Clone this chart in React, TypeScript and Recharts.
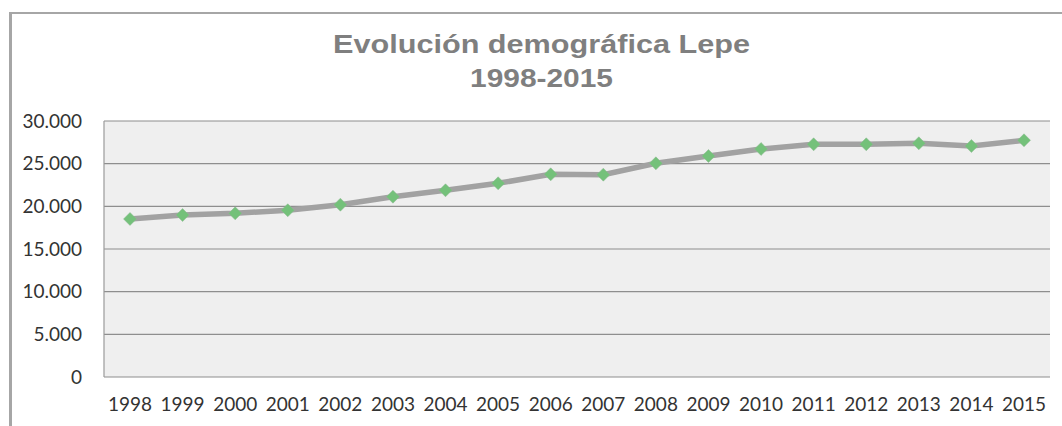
import React from "react";
import { LineChart, Line, XAxis, YAxis, CartesianGrid } from "recharts";

const years = ["1998","1999","2000","2001","2002","2003","2004","2005","2006","2007","2008","2009","2010","2011","2012","2013","2014","2015"];
const population = [18520,18980,19180,19540,20190,21130,21880,22700,23750,23710,25040,25900,26720,27270,27270,27390,27070,27740];
const yTicks = [0,5000,10000,15000,20000,25000,30000];
const titleLine1 = "Evolución demográfica Lepe";
const titleLine2 = "1998-2015";

const data = years.map((y, i) => ({ year: y, value: population[i] }));

const fmt = (n: number) => String(n).replace(/\B(?=(\d{3})+(?!\d))/g, ".");

const Diamond = (props: any) => {
  const { cx, cy } = props;
  if (cx == null || cy == null) return null;
  const r = 6.5;
  return (
    <polygon
      points={`${cx},${cy - r} ${cx + r},${cy} ${cx},${cy + r} ${cx - r},${cy}`}
      fill="#74c17a"
      stroke="#8fb892"
      strokeWidth={0.5}
    />
  );
};

export default function App() {
  return (
    <div style={{ position: "absolute", left: 0, top: 0, width: 1062, height: 426, background: "#fff", overflow: "hidden" }}>
      <div style={{ position: "absolute", left: 9, top: 12, width: 1100, height: 500, borderLeft: "3px solid #a6a6a6", borderTop: "2px solid #a6a6a6" }} />
      <svg width={1062} height={100} style={{ position: "absolute", left: 0, top: 0 }}>
        <text x={541.5} y={53} textAnchor="middle" textLength={417} lengthAdjust="spacingAndGlyphs"
          style={{ fontFamily: "'Liberation Sans', Arial, sans-serif", fontWeight: 700, fontSize: 25, fill: "#7f7f7f" }}>
          {titleLine1}
        </text>
        <text x={541.5} y={86.5} textAnchor="middle" textLength={143} lengthAdjust="spacingAndGlyphs"
          style={{ fontFamily: "'Liberation Sans', Arial, sans-serif", fontWeight: 700, fontSize: 25, fill: "#7f7f7f" }}>
          {titleLine2}
        </text>
      </svg>
      <div style={{ position: "absolute", left: 0, top: 0 }}>
        <LineChart width={1062} height={426} data={data} margin={{ top: 121, right: 12, bottom: 0, left: 0 }}>
          <CartesianGrid fill="#efefef" stroke="#8e8e8e" strokeWidth={1.2} vertical={false} horizontalValues={yTicks} />
          <XAxis
            dataKey="year"
            height={49}
            padding={{ left: 26, right: 26 }}
            axisLine={false}
            tickLine={false}
            tickSize={0}
            tickMargin={21}
            interval={0}
            tick={{ fontFamily: "Lato, sans-serif", fontSize: 19, fill: "#333" }}
          />
          <YAxis
            width={104}
            domain={[0, 30000]}
            ticks={yTicks}
            tickFormatter={fmt}
            axisLine={{ stroke: "#9a9a9a", strokeWidth: 1.2 }}
            tickLine={false}
            tickSize={0}
            tickMargin={22}
            tick={{ fontFamily: "Lato, sans-serif", fontSize: 19, fill: "#333" }}
          />
          <Line
            type="linear"
            dataKey="value"
            stroke="#a2a2a2"
            strokeWidth={5.5}
            dot={<Diamond />}
            activeDot={false}
            isAnimationActive={false}
          />
        </LineChart>
      </div>
    </div>
  );
}
